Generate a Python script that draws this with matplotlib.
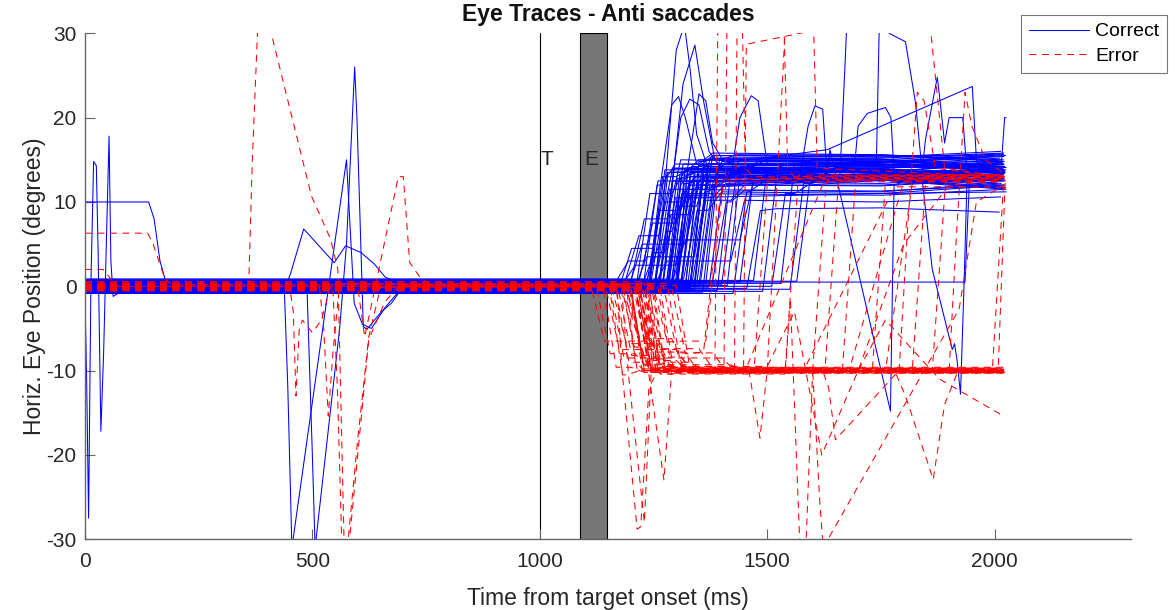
import matplotlib.pyplot as plt
from matplotlib.patches import Rectangle

plt.rcParams['font.family'] = ['Liberation Sans', 'DejaVu Sans']
plt.rcParams['lines.scale_dashes'] = False
plt.rcParams['axes.unicode_minus'] = False

# event markers (ms)
target_on = 1000
eye_win = (1088, 1148)

# correct anti-saccade trials: fixation level, first step, second step,
# position at 1750 ms and at the end of the trace
cor_fix = [
    0.35, -0.6, 0.1, 0.7, -0.25, 0.5, -0.85, 0.0, 0.6, -0.35,
    0.25, -0.7, 0.85, -0.1, 0.35, -0.5, 0.1, 0.7, -0.6, 0.0,
    0.5, -0.25, 0.6, -0.85, 0.25, -0.35, 0.7, -0.1, 0.35, -0.7,
    0.0, 0.6, -0.5, 0.25, 0.85, -0.25, 0.1, -0.6, 0.5, -0.35,
    0.7, 0.0, -0.7, 0.35, -0.1, 0.6, -0.5, 0.25, 0.1, -0.85,
    0.5, -0.25, 0.7, -0.6, 0.0, 0.35, -0.35, 0.6, -0.1, 0.25]
cor_t1 = [
    1165, 1172, 1180, 1188, 1195, 1200, 1205, 1212, 1218, 1222,
    1228, 1232, 1236, 1240, 1244, 1248, 1252, 1255, 1258, 1262,
    1265, 1268, 1272, 1275, 1278, 1282, 1285, 1288, 1292, 1296,
    1300, 1304, 1308, 1312, 1316, 1320, 1325, 1330, 1335, 1340,
    1346, 1352, 1358, 1365, 1372, 1380, 1390, 1400, 1412, 1425,
    1440, 1455, 1470, 1490, 1510, 1530, 1550, 1565, 1250, 1290]
cor_y1 = [
    3.0, 4.5, 2.5, 6.0, 5.0, 8.0, 3.5, 11.0, 7.5, 4.0,
    12.0, 9.0, 5.5, 13.0, 10.0, 6.5, 13.5, 11.5, 8.5, 12.5,
    14.0, 10.5, 12.8, 9.5, 13.2, 11.0, 14.5, 12.2, 10.8, 13.8,
    12.0, 14.2, 11.5, 13.0, 9.0, 14.8, 12.5, 13.5, 10.2, 14.0,
    12.8, 11.8, 13.2, 15.0, 12.0, 10.0, 13.6, 12.4, 14.2, 11.2,
    13.0, 9.0, 14.0, 12.6, 11.0, 14.4, 12.2, 13.0, 3.0, 5.5]
cor_t2 = [
    1230, 1250, 1300, 1262, 1320, 1280, 1340, 1290, 1300, 1275,
    1268, 1310, 1350, 1300, 1325, 1290, 1320, 1360, 1330, 1300,
    1340, 1380, 1310, 1345, 1330, 1360, 1350, 1325, 1370, 1340,
    1390, 1350, 1345, 1400, 1370, 1360, 1400, 1380, 1420, 1390,
    1410, 1390, 1430, 1400, 1440, 1420, 1450, 1440, 1470, 1460,
    1490, 1490, 1520, 1530, 1560, 1570, 1600, 1620, 1420, 1440]
cor_y2 = [
    12.5, 13.5, 11.0, 14.0, 12.0, 15.0, 13.0, 13.8, 12.5, 10.5,
    14.5, 13.2, 15.5, 14.0, 12.8, 11.5, 15.0, 12.0, 14.2, 13.0,
    14.5, 12.2, 13.5, 15.2, 13.8, 11.8, 15.8, 12.6, 14.8, 14.2,
    13.0, 15.5, 12.4, 14.0, 11.2, 15.2, 13.6, 14.6, 12.0, 13.4,
    15.0, 12.9, 14.4, 15.6, 13.1, 11.4, 14.8, 12.8, 15.1, 12.3,
    13.9, 9.2, 14.6, 13.3, 12.0, 15.0, 13.5, 14.1, 10.2, 12.5]
cor_ym = [
    12.2, 14.4, 10.8, 13.8, 12.0, 14.6, 13.2, 13.6, 12.8, 11.0,
    14.2, 13.0, 15.6, 13.5, 13.9, 11.2, 15.2, 12.9, 14.5, 13.1,
    14.4, 12.6, 13.9, 14.4, 13.5, 12.7, 15.6, 12.5, 14.9, 13.9,
    12.7, 15.3, 12.8, 14.0, 11.0, 15.1, 13.8, 14.6, 11.9, 13.2,
    14.8, 13.4, 14.5, 15.5, 12.9, 11.3, 15.0, 12.9, 15.0, 12.6,
    14.0, 9.3, 14.7, 12.9, 12.6, 14.7, 13.8, 14.0, 10.0, 12.9]
cor_y3 = [
    13.0, 14.2, 11.5, 13.2, 12.8, 15.5, 12.2, 14.5, 11.8, 11.2,
    15.0, 13.8, 14.8, 12.5, 13.5, 12.2, 15.8, 12.8, 13.6, 14.0,
    15.2, 11.5, 12.8, 14.5, 14.6, 12.5, 15.0, 13.4, 14.0, 13.0,
    13.8, 16.0, 11.6, 14.8, 11.9, 14.2, 12.9, 15.4, 12.7, 14.1,
    15.6, 12.2, 13.7, 14.9, 13.9, 12.0, 14.1, 13.6, 15.7, 11.7,
    14.5, 8.8, 13.8, 14.0, 12.6, 15.5, 12.8, 14.7, 10.6, 12.0]
cor_end = [
    2020, 2015, 2022, 2010, 2018, 2024, 2005, 2020, 2012, 2025,
    2019, 2008, 2021, 2016, 2023, 2000, 2020, 2014, 2022, 2018,
    2011, 2025, 2017, 2020, 2009, 2023, 2015, 2021, 2006, 2019,
    2024, 2013, 2020, 2017, 2002, 2022, 2016, 2020, 2011, 2025,
    2018, 2014, 2021, 2008, 2019, 2023, 2016, 2020, 2012, 2024,
    2018, 2010, 2022, 2015, 2020, 1998, 2021, 2017, 2013, 2020]

# correct trials with blinks / overshoots, given as raw breakpoints
cor_odd_t = [
    [0, 140, 152, 165, 178, 200, 1280, 1310, 1330, 2020],
    [0, 4, 8, 13, 19, 25, 29, 35, 41, 47, 53, 57, 62, 80, 1240, 1275, 2010],
    [0, 438, 446, 455, 575, 582, 592, 610, 630, 660, 700, 1300, 1340, 2015],
    [0, 440, 452, 481, 548, 573, 607, 637, 660, 700, 1330, 1360, 2015],
    [0, 488, 500, 506, 560, 575, 593, 598, 612, 620, 652, 674, 700, 1340, 1370, 2020],
    [0, 1255, 1280, 1300, 1318, 1330, 1345, 1370, 1400, 2015],
    [0, 1270, 1295, 1315, 1341, 1360, 1385, 1420, 2020],
    [0, 1240, 1265, 1290, 1305, 1320, 1345, 2015],
    [0, 1260, 1285, 1310, 1330, 1350, 1372, 1400, 2010],
    [0, 1300, 1325, 1350, 1365, 1380, 1400, 2020],
    [0, 1350, 1380, 1420, 1440, 1465, 1480, 1500, 2015],
    [0, 1300, 1330, 1570, 1590, 1605, 1622, 1632, 2020],
    [0, 1320, 1350, 1660, 1670, 1675, 1685],
    [0, 1290, 1320, 1632, 1951, 1960, 1975, 2020],
    [0, 1330, 1360, 1690, 1700, 1720, 1760, 1772, 1780, 2015],
    [0, 1340, 1370, 1740, 1750, 1768, 1804, 1826, 1840, 2020],
    [0, 1310, 1340, 1840, 1848, 1874, 1880, 1890, 1900, 1930, 1940, 2020],
    [0, 1280, 1310, 1630, 1638, 1771, 1779, 1800, 2020],
    [0, 1300, 1330, 1840, 1863, 1907, 1912, 1918, 1925, 1933, 1940, 2020],
    [0, 1935, 1945, 2020],
    [0, 1330, 1360, 2015, 2022, 2025],
]
cor_odd_y = [
    [10, 10, 8, 3, 0.5, -0.4, -0.4, 12, 13.5, 13],
    [-1, -12, -27.5, 0, 14.8, 14.3, 4, -17.2, -8, 5, 17.8, 3, -1.2, -0.6, -0.6, 13.8, 14.2],
    [0.2, 0.2, -12, -31, 15, 8, -2, -4.5, -5, -2.5, 0, 0, 13, 12.6],
    [-0.2, -0.2, 1.5, 6.8, 2.8, 4.8, 4, 2.6, 1.1, 0.2, 0.2, 13.2, 13.8],
    [0.1, 0.1, -20, -31, -5, 5, 26, 20, -4.8, -5.1, -3, -2, 0, 0, 14, 13.4],
    [0.2, 0.2, 15, 28, 31, 26, 18, 14, 13, 13.6],
    [-0.2, -0.2, 14, 24, 28.6, 22, 15, 12.8, 13.2],
    [0.4, 0.4, 12, 21.5, 22.5, 20, 14.5, 14.8],
    [-0.4, -0.4, 10, 20, 22.2, 21.5, 16, 14, 13.5],
    [0.0, 0.0, 14, 22.8, 22, 17, 15.2, 15.6],
    [0.3, 0.3, 12, 13, 20, 22.6, 22, 14.5, 14],
    [-0.5, -0.5, 12.5, 12.5, 19, 21.4, 21, 13, 12.5],
    [0.1, 0.1, 13.6, 13.2, 25, 31, 40],
    [0.2, 0.2, 14, 16.2, 23.7, 15, 13.5, 13.8],
    [-0.1, -0.1, 13, 13, 19, 20.5, 21.2, 20, 12.5, 12.8],
    [0.5, 0.5, 14.5, 14.5, 40, 30, 29, 21.8, 14, 14.4],
    [0.3, 0.3, 13.5, 13.5, 17.4, 24.8, 22, 17, 20, 20, 13, 13.3],
    [-0.3, -0.3, 12.5, 12.5, 16.2, -14.8, 12, 12.4, 12.6],
    [0.0, 0.0, 13, 13, 2, -7.5, -6.8, -9, -12.8, 0.5, 14, 14.2],
    [0.5, 0.5, 13, 13.5],
    [-0.1, -0.1, 14, 14.5, 20, 20],
]

# error trials: pro-saccade toward target, optional corrective saccade
err_fix = [0.2, -0.3, 0.35, -0.1, 0.3, -0.5, 0.1, -0.2, 0.5, -0.35,
           0.0, 0.3, -0.55, 0.2, -0.1, 0.35, -0.3, 0.1, -0.2, 0.55,
           -0.5, 0.2, -0.1, 0.3, -0.35, 0.0, 0.35, -0.2, 0.1, -0.3,
           0.2, -0.1]
err_t1 = [1112, 1125, 1138, 1145, 1152, 1160, 1166, 1172, 1178, 1184,
          1190, 1195, 1200, 1205, 1210, 1215, 1220, 1225, 1230, 1235,
          1240, 1245, 1250, 1258, 1265, 1272, 1280, 1290, 1300, 1155,
          1198, 1208]
err_y1 = [-6.5, -8.0, -9.6, -7.5, -10.5, -6.8, -9.0, -8.2, -7.2, -9.8,
          -6.2, -8.6, -10.2, -7.8, -9.2, -6.9, -8.8, -9.9, -7.4, -10.4,
          -8.4, -9.5, -6.6, -9.0, -10.1, -7.9, -9.4, -8.0, -9.7, -8.5,
          -9.3, -6.4]
err_t2 = [1245, 1210, 1200, 1300, 1190, 1260, 1230, 1250, 1215, 1240,
          1290, 1270, 1260, 1320, 1280, 1250, 1300, 1260, 1350, 1290,
          1310, 1280, 1285, 1330, 1300, 1380, 1320, 1325, 1360, 1400,
          1420, 1260]
err_y2 = [-10.1, -9.9, -10.2, -9.8, -10.0, -10.3, -9.7, -10.0, -9.6, -10.4,
          -10.1, -9.9, -10.0, -10.2, -9.8, -10.0, -10.3, -10.1, -9.7, -10.0,
          -10.2, -9.9, -6.5, -10.0, -10.2, -10.0, -9.8, -7.8, -10.1, -10.0,
          -10.2, -9.9]
err_t3 = [None, None, None, None, None, None, None, 1471, None, 1539,
          None, 1627, None, 1665, None, 1680, None, 1731, None, 1760,
          None, 1819, 1365, 1863, None, 1995, 2008, 1360, None, 1580,
          1450, None]
err_y3 = [0, 0, 0, 0, 0, 0, 0, 12.8, 0, 13.2,
          0, 12.6, 0, 13.0, 0, 12.4, 0, 13.2, 0, 12.6,
          0, 12.9, 12.7, 13.0, 0, 12.5, 12.2, 12.4, 0, 11.8,
          13.1, 0]
err_r3 = [0, 0, 0, 0, 0, 0, 0, 30, 0, 30,
          0, 30, 0, 30, 0, 120, 0, 30, 0, 60,
          0, 30, 40, 30, 0, 25, 15, 40, 0, 200,
          180, 0]
err_end = [2020, 2015, 2022, 2018, 2024, 2020, 2012, 2020, 2025, 2016,
           2021, 2020, 2019, 2023, 2020, 2014, 2022, 2020, 2017, 2024,
           2020, 2021, 2015, 2020, 2023, 2022, 2024, 2018, 2020, 2020,
           2019, 2021]

err_odd_t = [
    [0, 138, 150, 175, 190, 1180, 1210, 1240, 2020],
    [0, 40, 55, 70, 1190, 1215, 1240, 2020],
    [0, 360, 368, 380, 405, 498, 540, 556, 570, 580, 624, 659, 690, 1200, 1230, 2010],
    [0, 600, 615, 689, 700, 714, 735, 760, 1210, 1240, 1600, 1630, 2015],
    [0, 450, 458, 464, 471, 478, 500, 520, 540, 1220, 1250, 2020],
    [0, 515, 525, 535, 545, 560, 1230, 1260, 2020],
    [0, 545, 555, 565, 577, 600, 624, 650, 1215, 1245, 2020],
    [0, 1170, 1180, 1214, 1222, 1240, 1260, 2020],
    [0, 1180, 1195, 1230, 1245, 1270, 2020],
    [0, 1190, 1210, 1240, 1273, 1290, 1320, 2020],
    [0, 1200, 1225, 1460, 1484, 1500, 1539, 1545],
    [0, 1220, 1245, 1540, 1551, 1572, 1585, 1600, 2020],
    [0, 1230, 1260, 1600, 1615, 1623, 1922, 1960, 2020],
    [0, 1210, 1240, 1620, 1635, 1650, 1793, 2020],
    [0, 1230, 1255, 1780, 1804, 1865, 1890, 1920, 2020],
    [0, 1240, 1265, 1700, 1760, 1879, 2020],
    [0, 1250, 1275, 1500, 1560, 1620, 1700, 1800, 1900, 2020],
    [0, 1200, 1230, 1385, 1392, 1535, 1545, 1560, 2020],
    [0, 1210, 1240, 1405, 1412, 1600, 1610, 2020],
    [0, 1215, 1245, 1428, 1434, 1445, 1452, 1470, 2020],
    [0, 1225, 1250, 1448, 1454, 1590, 1600, 1850, 1860, 1877, 1890, 2020],
    [0, 1220, 1245, 1790, 1810, 1830, 1845, 1870, 2020],
    [0, 1235, 1260, 1900, 1915, 1935, 1950, 1980, 2020],
]
err_odd_y = [
    [6.3, 6.3, 5, 1, 0.2, 0.2, -5, -10, -10],
    [2, 2, 1, 0, 0, -6, -9.8, -9.9],
    [0.1, 0.1, 15, 31, 31, 10.7, 5.6, 2, -31, -31, -6.3, -1.9, 0.1, 0.1, -10, -10.2],
    [-0.2, -0.2, -6, 13, 13, 2.8, 1.2, 0.1, 0.1, -10, -10, 12.5, 13],
    [0, 0, -3, -13, -5.2, -4, -5.5, -4, 0, 0, -9.9, -10.1],
    [0.3, 0.3, -5, -15.4, -8, 0.3, 0.3, -10, -9.8],
    [-0.1, -0.1, -12, -31, -31, -18, -6, -0.1, -0.1, -10, -10],
    [0.1, 0.1, -9.5, -28.8, -28.5, -12, -10, -10.2],
    [-0.3, -0.3, -10.5, -28, -10, -9.8, -10],
    [0.2, 0.2, -9, -10.5, -23, -10, -9.5, -9.9],
    [0, 0, -10, -10, -18, -10, 30, 35],
    [0.2, 0.2, -10, -10, -1.5, -31, -31, -10, -10.1],
    [-0.2, -0.2, -10, -10, -25, -31, -2.7, 10, 12],
    [0.1, 0.1, -9.7, -9.7, -12, -18.2, -9.8, -10],
    [0, 0, -10, -10, -13, -22.9, -14, -10, -10],
    [0.3, 0.3, -10, -10, -4, -11, -15.4],
    [-0.3, -0.3, -9.5, -9.5, -3, -20, -10, 5, 12, 12.5],
    [0.1, 0.1, -10, -10, 35, 35, 14, 13, 13.2],
    [-0.2, -0.2, -9.8, -9.8, 35, 35, 14, 13],
    [0, 0, -10.2, -10.2, 33, 32, 14, 13, 12.8],
    [0.2, 0.2, -10, -10, 28.7, 30.2, 35, 35, 30, 21, 14, 13.0],
    [0, 0, -10, -10, 8, 23, 22, 14, 12.9],
    [-0.1, -0.1, -10, -10, 5, 23, 19, 15, 13.4],
]

SACC = 30      # saccade ramp duration (ms)
T_MID = 1750   # time of the mid-trace drift sample


def correct_path(fix, t1, y1, t2, y2, ym, y3, end):
    t = [0, t1, t1 + SACC, t2, t2 + SACC, T_MID, end]
    y = [fix, fix, y1, y1, y2, ym, y3]
    return t, y


def error_path(fix, t1, y1, t2, y2, t3, y3, r3, end):
    t = [0, t1, t1 + SACC, t2, t2 + SACC]
    y = [fix, fix, y1, y1, y2]
    if t3 is not None:
        t += [t3, t3 + r3]
        y += [y2, y3]
    t.append(end)
    y.append(y[-1])
    return t, y


blue = dict(color='#0000ff', lw=0.75)
red = dict(color='#ff0000', lw=0.75, ls=(0, (5, 4)))

fig = plt.figure(figsize=(11.75, 6.1), dpi=100)
ax = fig.add_axes([0.0723, 0.1159, 0.8903, 0.8295])

ax.add_patch(Rectangle((eye_win[0], -30), eye_win[1] - eye_win[0], 60,
                       facecolor='#777777', edgecolor='k', lw=0.8, zorder=0.5))
ax.plot([target_on, target_on], [-30, 30], color='k', lw=0.8, zorder=0.6)

# correct trials first, errors on top
for row in zip(cor_fix, cor_t1, cor_y1, cor_t2, cor_y2, cor_ym, cor_y3, cor_end):
    ax.plot(*correct_path(*row), **blue)
for t, y in zip(cor_odd_t, cor_odd_y):
    ax.plot(t, y, **blue)
for row in zip(err_fix, err_t1, err_y1, err_t2, err_y2, err_t3, err_y3, err_r3, err_end):
    ax.plot(*error_path(*row), **red)
for t, y in zip(err_odd_t, err_odd_y):
    ax.plot(t, y, **red)

ax.text(target_on + 2, 15, 'T', fontsize=15, color='#262626', ha='left', va='center')
ax.text(sum(eye_win) / 2 - 4, 15, 'E', fontsize=15, color='#262626', ha='center', va='center')

ax.set_xlim(0, 2300)
ax.set_ylim(-30, 30)
ax.set_xticks([0, 500, 1000, 1500, 2000])
ax.set_yticks([-30, -20, -10, 0, 10, 20, 30])
for s in ['top', 'right']:
    ax.spines[s].set_visible(False)
for s in ['left', 'bottom']:
    ax.spines[s].set_color('#666666')
    ax.spines[s].set_linewidth(1.0)
ax.tick_params(direction='in', length=7, width=0.8, color='#666666',
               labelsize=15, labelcolor='#262626')
ax.tick_params(axis='x', pad=9)
ax.tick_params(axis='y', pad=6)

ax.set_xlabel('Time from target onset (ms)', fontsize=16.5, color='#262626', labelpad=12)
ax.set_ylabel('Horiz. Eye Position (degrees)', fontsize=16.5, color='#262626', labelpad=0)
ax.set_title('Eye Traces - Anti saccades', fontsize=16.5, fontweight='bold',
             color='#111111', pad=9)

# legend proxies
ax.plot([], [], label='Correct', **blue)
ax.plot([], [], label='Error', **red)
leg = ax.legend(loc='upper left', bbox_to_anchor=(1021 / 1175, 1 - 15 / 610),
                bbox_transform=fig.transFigure, borderaxespad=0,
                fontsize=14, handlelength=3.1, handletextpad=0.3,
                labelspacing=0.35, borderpad=0.4, fancybox=False,
                framealpha=1, edgecolor='#777777')
leg.get_frame().set_linewidth(0.8)

fig.savefig('out.png', dpi=100)
